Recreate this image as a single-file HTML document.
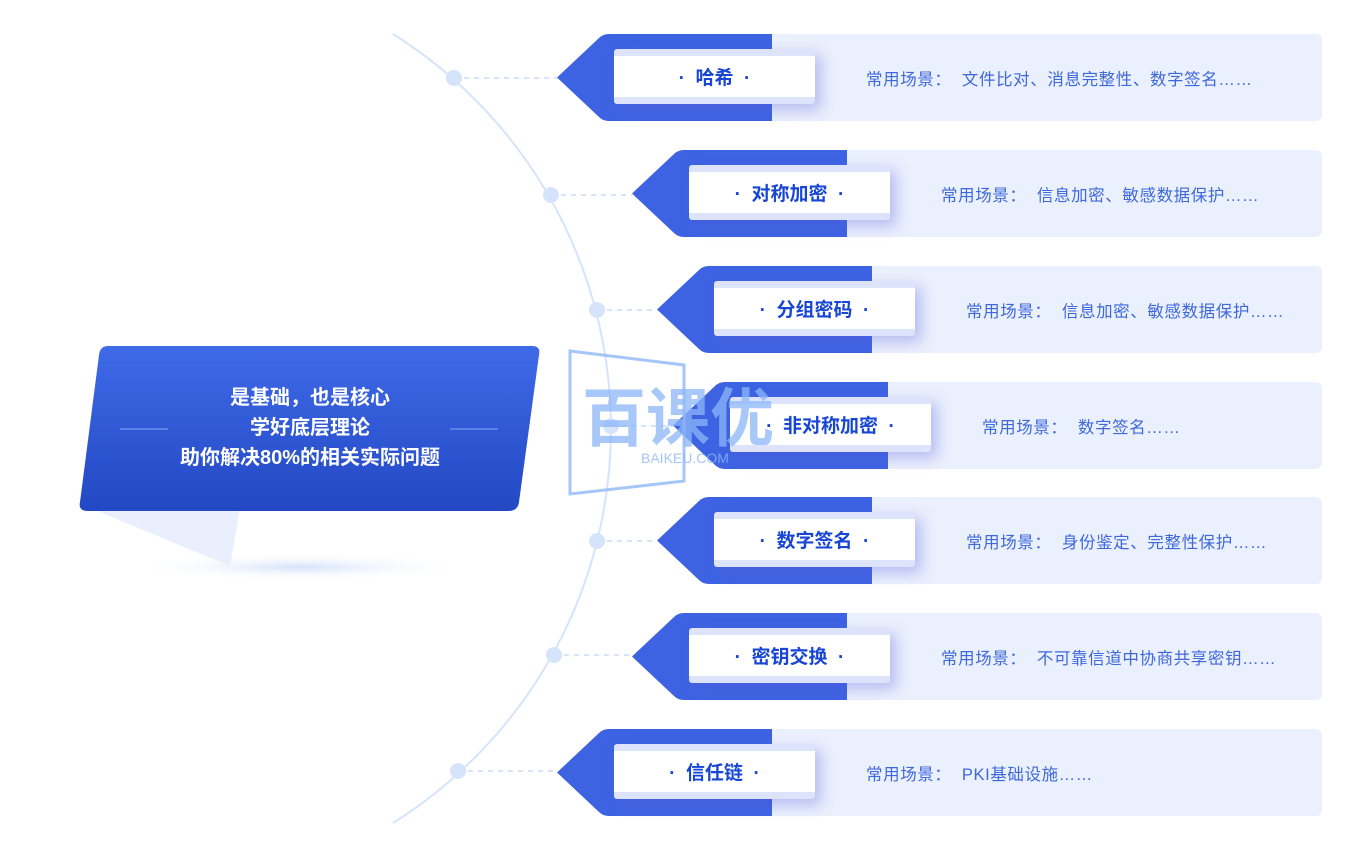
<!DOCTYPE html>
<html><head><meta charset="utf-8"><style>
html,body{margin:0;width:1352px;height:847px;overflow:hidden}
body{background:#fff;position:relative;font-family:"Liberation Sans","Noto Sans CJK SC",sans-serif}
.row{position:absolute;height:87px}
.lab{position:absolute;top:15px;width:201px;height:55px;background:#fff;border-radius:3px;box-shadow:6px 6px 14px rgba(90,90,220,.35);border-top:7px solid #dce3fb;border-bottom:7px solid #dce3fb;box-sizing:border-box;display:flex;align-items:center;justify-content:center;color:#1746d4;font-weight:bold;font-size:19px;white-space:pre}
.sc{position:absolute;top:32px;font-size:16.5px;letter-spacing:0.6px;color:#3f68dc;white-space:pre}
.panel{position:absolute;top:0;height:87px;background:#eaf0fd;border-radius:0 6px 6px 0}
.mid{position:absolute;left:80px;top:383px;width:460px;text-align:center;color:#fff;font-size:20px;line-height:30px;font-weight:bold}
</style></head><body>
<svg width="1352" height="847" style="position:absolute;left:0;top:0">
<defs>
<linearGradient id="g" x1="0" y1="0" x2="0" y2="1"><stop offset="0" stop-color="#3f6ae8"/><stop offset="1" stop-color="#2348c4"/></linearGradient>
<radialGradient id="sh"><stop offset="0" stop-color="#d5e2fa"/><stop offset="1" stop-color="#fff" stop-opacity="0"/></radialGradient>
</defs>
<path d="M393,34 A466,466 0 0 1 393,823" fill="none" stroke="#d6e4fb" stroke-width="2"/>
<ellipse cx="300" cy="567" rx="170" ry="14" fill="url(#sh)"/>
<polygon points="90,508 240,508 230,566" fill="#e9effc"/>
<path d="M108,346 H532 Q541,346 539,355 L519,502 Q518,511 508,511 H88 Q78,511 80,502 L99,355 Q100,346 108,346Z" fill="url(#g)"/>
<line x1="120" y1="429" x2="168" y2="429" stroke="#6d8ee8" stroke-width="1.5"/>
<line x1="450" y1="429" x2="498" y2="429" stroke="#6d8ee8" stroke-width="1.5"/>
<g stroke="#d6e4fb" stroke-width="2" stroke-dasharray="5,5">
<line x1="454" y1="78" x2="557" y2="78"/><line x1="551" y1="195" x2="632" y2="195"/><line x1="597" y1="310" x2="657" y2="310"/><line x1="611" y1="426" x2="673" y2="426"/><line x1="597" y1="541" x2="657" y2="541"/><line x1="554" y1="655" x2="632" y2="655"/><line x1="458" y1="771" x2="557" y2="771"/>
</g>
<g fill="#d6e4fb">
<circle cx="454" cy="78" r="8"/><circle cx="551" cy="195" r="8"/><circle cx="597" cy="310" r="8"/><circle cx="611" cy="426" r="8"/><circle cx="597" cy="541" r="8"/><circle cx="554" cy="655" r="8"/><circle cx="458" cy="771" r="8"/>
</g>
</svg>
<div class="mid">是基础，也是核心<br>学好底层理论<br>助你解决80%的相关实际问题</div>

<div class="row" style="left:557px;top:34px;width:765px"><div class="panel" style="left:210px;width:555px"></div><svg width="225" height="87" style="position:absolute;left:0;top:0"><path d="M0,43.5 L42,4 Q46,0 52,0 H215 V87 H52 Q46,87 42,83Z" fill="#3d63e2"/></svg><div class="lab" style="left:57px">·  哈希  ·</div><div class="sc" style="left:309px">常用场景：  文件比对、消息完整性、数字签名……</div></div>
<div class="row" style="left:632px;top:150px;width:690px"><div class="panel" style="left:210px;width:480px"></div><svg width="225" height="87" style="position:absolute;left:0;top:0"><path d="M0,43.5 L42,4 Q46,0 52,0 H215 V87 H52 Q46,87 42,83Z" fill="#3d63e2"/></svg><div class="lab" style="left:57px">·  对称加密  ·</div><div class="sc" style="left:309px">常用场景：  信息加密、敏感数据保护……</div></div>
<div class="row" style="left:657px;top:266px;width:665px"><div class="panel" style="left:210px;width:455px"></div><svg width="225" height="87" style="position:absolute;left:0;top:0"><path d="M0,43.5 L42,4 Q46,0 52,0 H215 V87 H52 Q46,87 42,83Z" fill="#3d63e2"/></svg><div class="lab" style="left:57px">·  分组密码  ·</div><div class="sc" style="left:309px">常用场景：  信息加密、敏感数据保护……</div></div>
<div class="row" style="left:673px;top:382px;width:649px"><div class="panel" style="left:210px;width:439px"></div><svg width="225" height="87" style="position:absolute;left:0;top:0"><path d="M0,43.5 L42,4 Q46,0 52,0 H215 V87 H52 Q46,87 42,83Z" fill="#3d63e2"/></svg><div class="lab" style="left:57px">·  非对称加密  ·</div><div class="sc" style="left:309px">常用场景：  数字签名……</div></div>
<div class="row" style="left:657px;top:497px;width:665px"><div class="panel" style="left:210px;width:455px"></div><svg width="225" height="87" style="position:absolute;left:0;top:0"><path d="M0,43.5 L42,4 Q46,0 52,0 H215 V87 H52 Q46,87 42,83Z" fill="#3d63e2"/></svg><div class="lab" style="left:57px">·  数字签名  ·</div><div class="sc" style="left:309px">常用场景：  身份鉴定、完整性保护……</div></div>
<div class="row" style="left:632px;top:613px;width:690px"><div class="panel" style="left:210px;width:480px"></div><svg width="225" height="87" style="position:absolute;left:0;top:0"><path d="M0,43.5 L42,4 Q46,0 52,0 H215 V87 H52 Q46,87 42,83Z" fill="#3d63e2"/></svg><div class="lab" style="left:57px">·  密钥交换  ·</div><div class="sc" style="left:309px">常用场景：  不可靠信道中协商共享密钥……</div></div>
<div class="row" style="left:557px;top:729px;width:765px"><div class="panel" style="left:210px;width:555px"></div><svg width="225" height="87" style="position:absolute;left:0;top:0"><path d="M0,43.5 L42,4 Q46,0 52,0 H215 V87 H52 Q46,87 42,83Z" fill="#3d63e2"/></svg><div class="lab" style="left:57px">·  信任链  ·</div><div class="sc" style="left:309px">常用场景：  PKI基础设施……</div></div>

<svg width="1352" height="847" style="position:absolute;left:0;top:0;pointer-events:none">
<path d="M570,351 L684,365 V481 L570,494 Z" fill="none" stroke="#8fb8f8" stroke-width="3" opacity=".8"/>
<text x="582" y="441" font-family="Noto Sans CJK SC,sans-serif" font-weight="bold" font-size="64" fill="#8cb6f8" fill-opacity=".75">百课优</text>
<text x="641" y="463" font-family="Liberation Sans,sans-serif" font-size="14" fill="#8cb6f8" fill-opacity=".8">BAIKEU.COM</text>
</svg>
</body></html>
